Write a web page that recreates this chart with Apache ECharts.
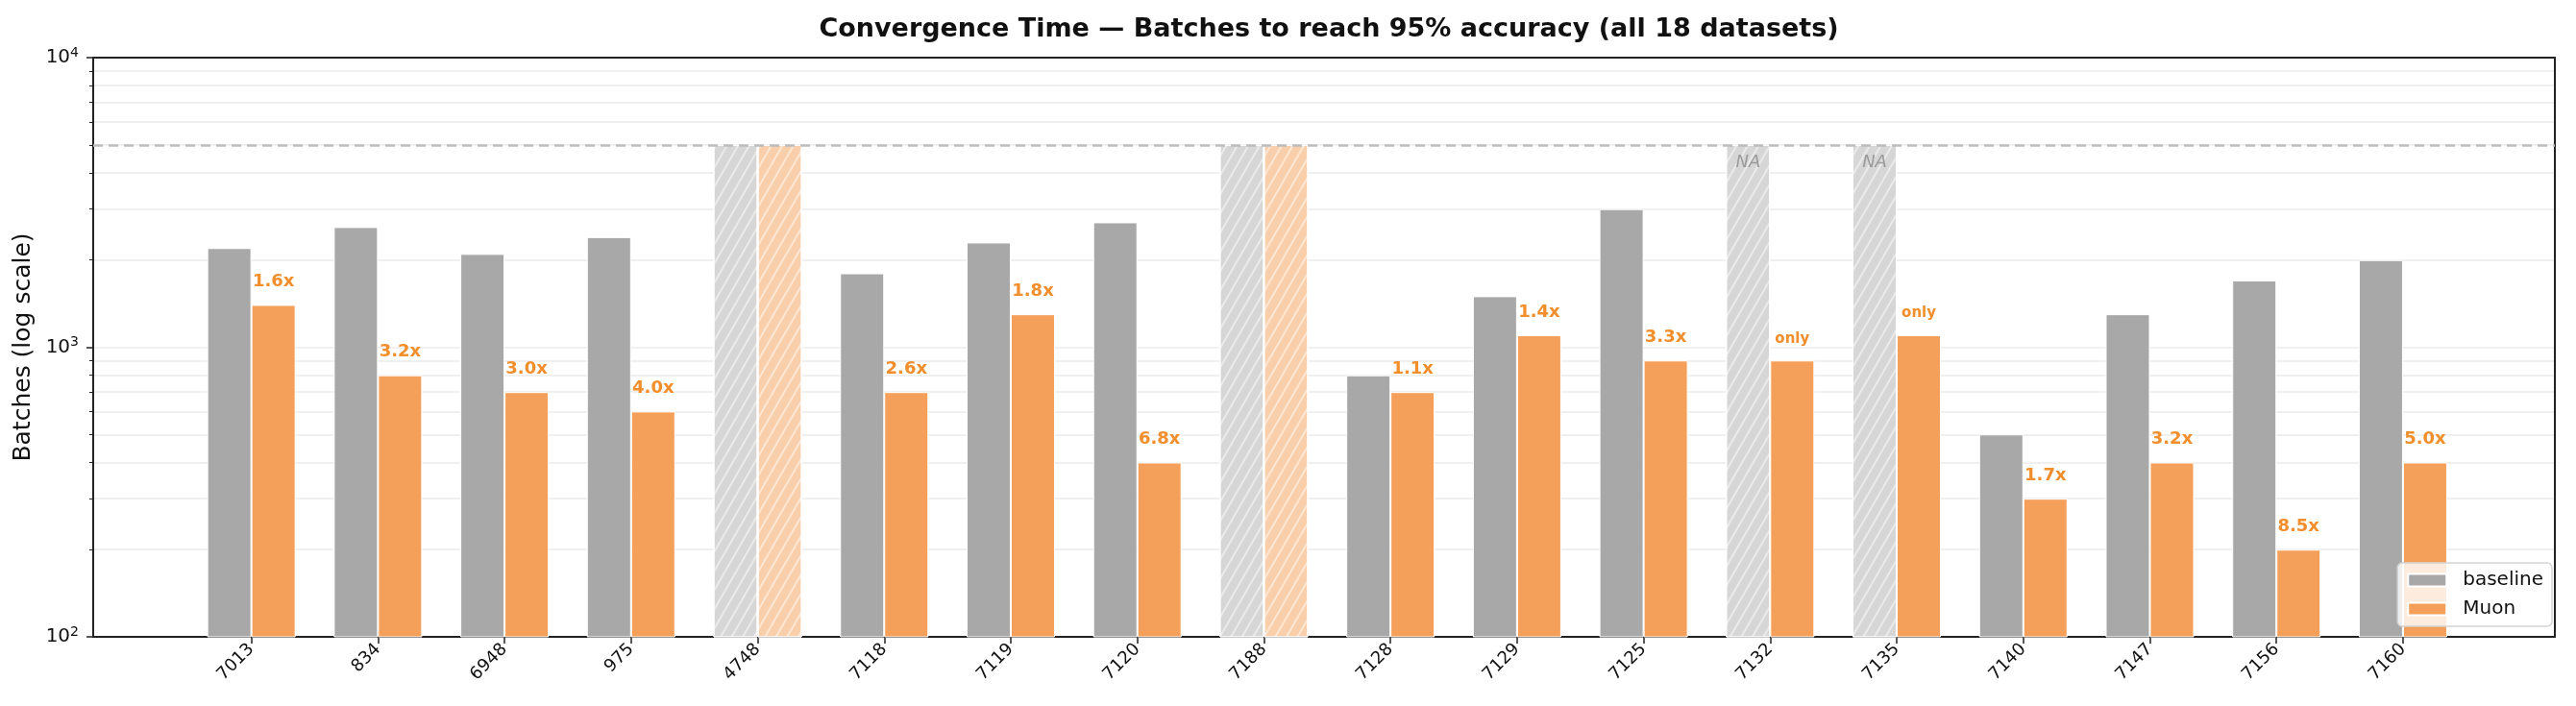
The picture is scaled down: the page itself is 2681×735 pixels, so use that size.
<!DOCTYPE html>
<html>
<head>
<meta charset="utf-8">
<title>Convergence Time</title>
<script src="https://cdn.jsdelivr.net/npm/echarts@6/dist/echarts.min.js"></script>
<style>
  html, body { margin: 0; padding: 0; background: #fff; }
  #chart { width: 2681px; height: 735px; }
</style>
</head>
<body>
<div id="chart"></div>
<script>
// datasets on the x axis
const datasets = ['7013', '834', '6948', '975', '4748', '7118', '7119', '7120', '7188',
  '7128', '7129', '7125', '7132', '7135', '7140', '7147', '7156', '7160']
// batches to reach 95% accuracy, null = never reached
const baseline = [2200, 2600, 2100, 2400, null, 1800, 2300, 2700, null,
  800, 1500, 3000, null, null, 500, 1300, 1700, 2000]
const muon = [1400, 800, 700, 600, null, 700, 1300, 400, null,
  700, 1100, 900, 900, 1100, 300, 400, 200, 400]
// text above the Muon bars
const speedup = ['1.6x', '3.2x', '3.0x', '4.0x', '', '2.6x', '1.8x', '6.8x', '',
  '1.1x', '1.4x', '3.3x', 'only', 'only', '1.7x', '3.2x', '8.5x', '5.0x']
// budget cap (dashed line), not-converged bars drawn up to it
const cap = 5000

const FONT = 'DejaVu Sans'
const GRAY = '#a8a8a8'
const ORANGE = '#f5a05a'
const LABEL_ORANGE = '#f28e2b'
const SPINE = '#222'

// '/' hatch: vertical stripes tilted 30deg clockwise
const hatch = {
  symbol: 'rect',
  symbolSize: 1,
  dashArrayX: [2, 8],
  dashArrayY: [1, 0],
  rotation: Math.PI / 6,
  color: 'rgba(255,255,255,0.5)'
}

const baselineData = baseline.map((v, i) => {
  if (v !== null) return { value: [i, v] }
  const item = {
    value: [i, cap],
    itemStyle: { color: '#d6d6d6', decal: hatch }
  }
  if (muon[i] !== null) {
    item.label = {
      show: true,
      position: 'insideTop',
      distance: 10,
      formatter: 'NA',
      fontStyle: 'italic',
      fontSize: 18,
      color: '#9a9a9a',
      fontFamily: FONT
    }
  }
  return item
})

const muonData = muon.map((v, i) => {
  if (v === null) {
    return { value: [i, cap], itemStyle: { color: '#f9cfab', decal: hatch } }
  }
  return {
    value: [i, v],
    label: {
      show: true,
      position: 'top',
      distance: 15,
      formatter: speedup[i],
      fontWeight: 'bold',
      fontSize: speedup[i] === 'only' ? 15 : 18,
      color: LABEL_ORANGE,
      fontFamily: FONT
    }
  }
})

const tickIdx = datasets.map((d, i) => i)

const chart = echarts.init(document.getElementById('chart'))
chart.setOption({
  backgroundColor: '#fff',
  animation: false,
  textStyle: { fontFamily: FONT },
  title: {
    text: 'Convergence Time \u2014 Batches to reach 95% accuracy (all 18 datasets)',
    left: 1378,
    textAlign: 'center',
    top: 12,
    textStyle: { fontFamily: FONT, fontSize: 27, fontWeight: 'bold', color: '#111' }
  },
  grid: {
    left: 97,
    right: 22,
    top: 60,
    bottom: 72
  },
  legend: {
    data: ['baseline', 'Muon'],
    orient: 'vertical',
    right: 25,
    bottom: 83,
    icon: 'rect',
    itemWidth: 40,
    itemHeight: 13,
    itemGap: 10,
    padding: [8, 9, 8, 10],
    backgroundColor: 'rgba(255,255,255,0.8)',
    borderColor: '#d4d4d4',
    borderWidth: 1.5,
    borderRadius: 5,
    textStyle: { fontFamily: FONT, fontSize: 20, color: '#111', padding: [0, 0, 0, 12] }
  },
  xAxis: [
    {
      type: 'value',
      min: -1.25,
      max: 18.2,
      position: 'bottom',
      axisLine: { show: true, onZero: false, lineStyle: { color: SPINE, width: 2 } },
      axisTick: {
        show: true,
        customValues: tickIdx,
        length: 7,
        lineStyle: { color: SPINE, width: 1.5 }
      },
      axisLabel: {
        customValues: tickIdx,
        formatter: v => datasets[v],
        rotate: 45,
        margin: 10,
        fontSize: 18,
        color: '#111',
        fontFamily: FONT
      },
      splitLine: { show: false }
    },
    {
      // top spine
      type: 'value',
      min: -1.25,
      max: 18.2,
      position: 'top',
      axisLine: { show: true, onZero: false, lineStyle: { color: SPINE, width: 2 } },
      axisTick: { show: false },
      axisLabel: { show: false },
      splitLine: { show: false }
    }
  ],
  yAxis: [
    {
      type: 'log',
      logBase: 10,
      min: 100,
      max: 10000,
      position: 'left',
      name: 'Batches (log scale)',
      nameLocation: 'middle',
      nameGap: 60,
      nameTextStyle: { fontFamily: FONT, fontSize: 25, color: '#111' },
      axisLine: { show: true, onZero: false, lineStyle: { color: SPINE, width: 2 } },
      axisTick: { show: true, length: 7, lineStyle: { color: SPINE, width: 1.5 } },
      minorTick: { show: true, splitNumber: 9, length: 4, lineStyle: { color: SPINE, width: 1 } },
      splitLine: { show: true, lineStyle: { color: '#ececec', width: 1.5 } },
      minorSplitLine: { show: true, lineStyle: { color: '#ececec', width: 1.5 } },
      axisLabel: {
        margin: 15,
        formatter: v => '{b|10}{s|' + Math.round(Math.log10(v)) + '}',
        rich: {
          b: { fontSize: 20, fontFamily: FONT, color: '#111', lineHeight: 24 },
          s: { fontSize: 14, fontFamily: FONT, color: '#111', verticalAlign: 'top', lineHeight: 14 }
        }
      }
    },
    {
      // right spine
      type: 'log',
      logBase: 10,
      min: 100,
      max: 10000,
      position: 'right',
      axisLine: { show: true, onZero: false, lineStyle: { color: SPINE, width: 2 } },
      axisTick: { show: false },
      axisLabel: { show: false },
      splitLine: { show: false }
    }
  ],
  series: [
    {
      name: 'baseline',
      type: 'bar',
      barWidth: 46,
      barGap: '0%',
      itemStyle: { color: GRAY, borderColor: '#fff', borderWidth: 1 },
      data: baselineData,
      markLine: {
        silent: true,
        symbol: 'none',
        label: { show: false },
        lineStyle: { color: '#bdbdbd', type: [10, 6], width: 2.5 },
        data: [{ yAxis: cap }]
      }
    },
    {
      name: 'Muon',
      type: 'bar',
      barWidth: 46,
      barGap: '0%',
      itemStyle: { color: ORANGE, borderColor: '#fff', borderWidth: 1 },
      data: muonData
    }
  ]
})
</script>
</body>
</html>
